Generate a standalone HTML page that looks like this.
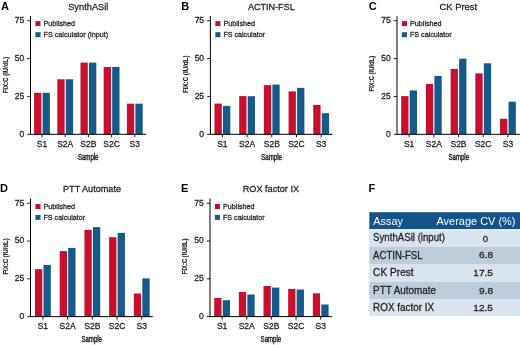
<!DOCTYPE html>
<html><head><meta charset="utf-8"><style>
html,body{margin:0;padding:0;background:#fff;}
body{width:520px;height:345px;overflow:hidden;}
svg{display:block;font-family:"Liberation Sans", sans-serif;will-change:transform;}
text.k{stroke:#231f20;stroke-width:0.28px;}
</style></head><body>
<svg width="520" height="345" viewBox="0 0 520 345">
<text x="1.0" y="10.0" font-size="11" font-weight="bold" fill="#000">A</text>
<text x="88.3" y="9.7" font-size="9.5" text-anchor="middle" textLength="40.2" lengthAdjust="spacingAndGlyphs" fill="#231f20" class="k">SynthASil</text>
<rect x="34.10" y="92.80" width="7.3" height="41.50" fill="#c8102e"/>
<rect x="42.60" y="92.80" width="7.3" height="41.50" fill="#165a8c"/>
<rect x="57.30" y="79.30" width="7.3" height="55.00" fill="#c8102e"/>
<rect x="65.80" y="79.30" width="7.3" height="55.00" fill="#165a8c"/>
<rect x="80.50" y="62.60" width="7.3" height="71.70" fill="#c8102e"/>
<rect x="89.00" y="62.60" width="7.3" height="71.70" fill="#165a8c"/>
<rect x="103.70" y="67.00" width="7.3" height="67.30" fill="#c8102e"/>
<rect x="112.20" y="67.00" width="7.3" height="67.30" fill="#165a8c"/>
<rect x="126.90" y="103.70" width="7.3" height="30.60" fill="#c8102e"/>
<rect x="135.40" y="103.70" width="7.3" height="30.60" fill="#165a8c"/>
<path d="M30.50 16.10V134.30H146.00" fill="none" stroke="#000" stroke-width="1"/>
<path d="M27.30 134.30H30.50" stroke="#000" stroke-width="0.9"/>
<text x="24.20" y="136.70" font-size="8.5" text-anchor="end" fill="#231f20" class="k">0</text>
<path d="M27.30 96.43H30.50" stroke="#000" stroke-width="0.9"/>
<text x="24.20" y="98.83" font-size="8.5" text-anchor="end" fill="#231f20" class="k">25</text>
<path d="M27.30 58.57H30.50" stroke="#000" stroke-width="0.9"/>
<text x="24.20" y="60.97" font-size="8.5" text-anchor="end" fill="#231f20" class="k">50</text>
<path d="M27.30 20.70H30.50" stroke="#000" stroke-width="0.9"/>
<text x="24.20" y="23.10" font-size="8.5" text-anchor="end" fill="#231f20" class="k">75</text>
<path d="M42.00 134.30V137.30" stroke="#000" stroke-width="0.9"/>
<text x="42.00" y="147.00" font-size="8.5" text-anchor="middle" fill="#231f20" class="k">S1</text>
<path d="M65.20 134.30V137.30" stroke="#000" stroke-width="0.9"/>
<text x="65.20" y="147.00" font-size="8.5" text-anchor="middle" fill="#231f20" class="k">S2A</text>
<path d="M88.40 134.30V137.30" stroke="#000" stroke-width="0.9"/>
<text x="88.40" y="147.00" font-size="8.5" text-anchor="middle" fill="#231f20" class="k">S2B</text>
<path d="M111.60 134.30V137.30" stroke="#000" stroke-width="0.9"/>
<text x="111.60" y="147.00" font-size="8.5" text-anchor="middle" fill="#231f20" class="k">S2C</text>
<path d="M134.80 134.30V137.30" stroke="#000" stroke-width="0.9"/>
<text x="134.80" y="147.00" font-size="8.5" text-anchor="middle" fill="#231f20" class="k">S3</text>
<text x="88.2" y="160.0" font-size="8.6" text-anchor="middle" textLength="20.6" lengthAdjust="spacingAndGlyphs" fill="#231f20" stroke="#231f20" stroke-width="0.45">Sample</text>
<text transform="translate(7.90 75.00) rotate(-90)" font-size="6.6" font-weight="bold" text-anchor="middle" textLength="36.6" lengthAdjust="spacingAndGlyphs" fill="#231f20" stroke="#231f20" stroke-width="0.15">FIX:C (IU/dL)</text>
<rect x="35.40" y="21.10" width="5.1" height="5" fill="#c8102e"/>
<rect x="35.40" y="32.20" width="5.1" height="5" fill="#165a8c"/>
<text x="43.50" y="26.00" font-size="8" textLength="31.6" lengthAdjust="spacingAndGlyphs" fill="#231f20" class="k">Published</text>
<text x="43.50" y="37.10" font-size="8" textLength="64.6" lengthAdjust="spacingAndGlyphs" fill="#231f20" class="k">FS calculator (input)</text>
<text x="181.3" y="10.0" font-size="11" font-weight="bold" fill="#000">B</text>
<text x="271.3" y="9.7" font-size="9.5" text-anchor="middle" textLength="46.8" lengthAdjust="spacingAndGlyphs" fill="#231f20" class="k">ACTIN-FSL</text>
<rect x="214.50" y="103.60" width="7.3" height="30.70" fill="#c8102e"/>
<rect x="223.00" y="105.90" width="7.3" height="28.40" fill="#165a8c"/>
<rect x="239.19" y="96.10" width="7.3" height="38.20" fill="#c8102e"/>
<rect x="247.69" y="96.20" width="7.3" height="38.10" fill="#165a8c"/>
<rect x="263.88" y="85.10" width="7.3" height="49.20" fill="#c8102e"/>
<rect x="272.38" y="84.60" width="7.3" height="49.70" fill="#165a8c"/>
<rect x="288.57" y="91.40" width="7.3" height="42.90" fill="#c8102e"/>
<rect x="297.07" y="87.90" width="7.3" height="46.40" fill="#165a8c"/>
<rect x="313.26" y="104.90" width="7.3" height="29.40" fill="#c8102e"/>
<rect x="321.76" y="113.20" width="7.3" height="21.10" fill="#165a8c"/>
<path d="M210.40 16.10V134.30H332.70" fill="none" stroke="#000" stroke-width="1"/>
<path d="M207.20 134.30H210.40" stroke="#000" stroke-width="0.9"/>
<text x="204.10" y="136.70" font-size="8.5" text-anchor="end" fill="#231f20" class="k">0</text>
<path d="M207.20 96.43H210.40" stroke="#000" stroke-width="0.9"/>
<text x="204.10" y="98.83" font-size="8.5" text-anchor="end" fill="#231f20" class="k">25</text>
<path d="M207.20 58.57H210.40" stroke="#000" stroke-width="0.9"/>
<text x="204.10" y="60.97" font-size="8.5" text-anchor="end" fill="#231f20" class="k">50</text>
<path d="M207.20 20.70H210.40" stroke="#000" stroke-width="0.9"/>
<text x="204.10" y="23.10" font-size="8.5" text-anchor="end" fill="#231f20" class="k">75</text>
<path d="M222.40 134.30V137.30" stroke="#000" stroke-width="0.9"/>
<text x="222.40" y="147.00" font-size="8.5" text-anchor="middle" fill="#231f20" class="k">S1</text>
<path d="M247.09 134.30V137.30" stroke="#000" stroke-width="0.9"/>
<text x="247.09" y="147.00" font-size="8.5" text-anchor="middle" fill="#231f20" class="k">S2A</text>
<path d="M271.78 134.30V137.30" stroke="#000" stroke-width="0.9"/>
<text x="271.78" y="147.00" font-size="8.5" text-anchor="middle" fill="#231f20" class="k">S2B</text>
<path d="M296.47 134.30V137.30" stroke="#000" stroke-width="0.9"/>
<text x="296.47" y="147.00" font-size="8.5" text-anchor="middle" fill="#231f20" class="k">S2C</text>
<path d="M321.16 134.30V137.30" stroke="#000" stroke-width="0.9"/>
<text x="321.16" y="147.00" font-size="8.5" text-anchor="middle" fill="#231f20" class="k">S3</text>
<text x="271.6" y="160.0" font-size="8.6" text-anchor="middle" textLength="20.6" lengthAdjust="spacingAndGlyphs" fill="#231f20" stroke="#231f20" stroke-width="0.45">Sample</text>
<text transform="translate(187.80 74.30) rotate(-90)" font-size="6.6" font-weight="bold" text-anchor="middle" textLength="37.5" lengthAdjust="spacingAndGlyphs" fill="#231f20" stroke="#231f20" stroke-width="0.15">FIX:C (IU/dL)</text>
<rect x="215.30" y="21.10" width="5.1" height="5" fill="#c8102e"/>
<rect x="215.30" y="32.20" width="5.1" height="5" fill="#165a8c"/>
<text x="223.40" y="26.00" font-size="8" textLength="31.6" lengthAdjust="spacingAndGlyphs" fill="#231f20" class="k">Published</text>
<text x="223.40" y="37.10" font-size="8" textLength="41.6" lengthAdjust="spacingAndGlyphs" fill="#231f20" class="k">FS calculator</text>
<text x="368.7" y="10.0" font-size="11" font-weight="bold" fill="#000">C</text>
<text x="458.3" y="9.7" font-size="9.5" text-anchor="middle" textLength="37.8" lengthAdjust="spacingAndGlyphs" fill="#231f20" class="k">CK Prest</text>
<rect x="401.20" y="96.10" width="7.3" height="38.20" fill="#c8102e"/>
<rect x="409.70" y="90.50" width="7.3" height="43.80" fill="#165a8c"/>
<rect x="425.91" y="83.90" width="7.3" height="50.40" fill="#c8102e"/>
<rect x="434.41" y="75.90" width="7.3" height="58.40" fill="#165a8c"/>
<rect x="450.62" y="68.90" width="7.3" height="65.40" fill="#c8102e"/>
<rect x="459.12" y="58.70" width="7.3" height="75.60" fill="#165a8c"/>
<rect x="475.33" y="73.40" width="7.3" height="60.90" fill="#c8102e"/>
<rect x="483.83" y="63.30" width="7.3" height="71.00" fill="#165a8c"/>
<rect x="500.04" y="118.80" width="7.3" height="15.50" fill="#c8102e"/>
<rect x="508.54" y="101.70" width="7.3" height="32.60" fill="#165a8c"/>
<path d="M397.00 16.10V134.30H520.50" fill="none" stroke="#000" stroke-width="1"/>
<path d="M393.80 134.30H397.00" stroke="#000" stroke-width="0.9"/>
<text x="390.70" y="136.70" font-size="8.5" text-anchor="end" fill="#231f20" class="k">0</text>
<path d="M393.80 96.43H397.00" stroke="#000" stroke-width="0.9"/>
<text x="390.70" y="98.83" font-size="8.5" text-anchor="end" fill="#231f20" class="k">25</text>
<path d="M393.80 58.57H397.00" stroke="#000" stroke-width="0.9"/>
<text x="390.70" y="60.97" font-size="8.5" text-anchor="end" fill="#231f20" class="k">50</text>
<path d="M393.80 20.70H397.00" stroke="#000" stroke-width="0.9"/>
<text x="390.70" y="23.10" font-size="8.5" text-anchor="end" fill="#231f20" class="k">75</text>
<path d="M409.10 134.30V137.30" stroke="#000" stroke-width="0.9"/>
<text x="409.10" y="147.00" font-size="8.5" text-anchor="middle" fill="#231f20" class="k">S1</text>
<path d="M433.81 134.30V137.30" stroke="#000" stroke-width="0.9"/>
<text x="433.81" y="147.00" font-size="8.5" text-anchor="middle" fill="#231f20" class="k">S2A</text>
<path d="M458.52 134.30V137.30" stroke="#000" stroke-width="0.9"/>
<text x="458.52" y="147.00" font-size="8.5" text-anchor="middle" fill="#231f20" class="k">S2B</text>
<path d="M483.23 134.30V137.30" stroke="#000" stroke-width="0.9"/>
<text x="483.23" y="147.00" font-size="8.5" text-anchor="middle" fill="#231f20" class="k">S2C</text>
<path d="M507.94 134.30V137.30" stroke="#000" stroke-width="0.9"/>
<text x="507.94" y="147.00" font-size="8.5" text-anchor="middle" fill="#231f20" class="k">S3</text>
<text x="458.8" y="160.0" font-size="8.6" text-anchor="middle" textLength="20.6" lengthAdjust="spacingAndGlyphs" fill="#231f20" stroke="#231f20" stroke-width="0.45">Sample</text>
<text transform="translate(374.40 73.60) rotate(-90)" font-size="6.6" font-weight="bold" text-anchor="middle" textLength="35.6" lengthAdjust="spacingAndGlyphs" fill="#231f20" stroke="#231f20" stroke-width="0.15">FIX:C (IU/dL)</text>
<rect x="401.90" y="21.10" width="5.1" height="5" fill="#c8102e"/>
<rect x="401.90" y="32.20" width="5.1" height="5" fill="#165a8c"/>
<text x="410.00" y="26.00" font-size="8" textLength="31.6" lengthAdjust="spacingAndGlyphs" fill="#231f20" class="k">Published</text>
<text x="410.00" y="37.10" font-size="8" textLength="41.6" lengthAdjust="spacingAndGlyphs" fill="#231f20" class="k">FS calculator</text>
<text x="0.1" y="192.1" font-size="11" font-weight="bold" fill="#000">D</text>
<text x="92.0" y="192.3" font-size="9.5" text-anchor="middle" textLength="58.0" lengthAdjust="spacingAndGlyphs" fill="#231f20" class="k">PTT Automate</text>
<rect x="35.00" y="269.20" width="7.3" height="47.40" fill="#c8102e"/>
<rect x="43.50" y="264.90" width="7.3" height="51.70" fill="#165a8c"/>
<rect x="59.71" y="251.10" width="7.3" height="65.50" fill="#c8102e"/>
<rect x="68.21" y="247.90" width="7.3" height="68.70" fill="#165a8c"/>
<rect x="84.42" y="229.90" width="7.3" height="86.70" fill="#c8102e"/>
<rect x="92.92" y="227.10" width="7.3" height="89.50" fill="#165a8c"/>
<rect x="109.13" y="237.20" width="7.3" height="79.40" fill="#c8102e"/>
<rect x="117.63" y="232.90" width="7.3" height="83.70" fill="#165a8c"/>
<rect x="133.84" y="293.50" width="7.3" height="23.10" fill="#c8102e"/>
<rect x="142.34" y="278.40" width="7.3" height="38.20" fill="#165a8c"/>
<path d="M30.50 198.60V316.60H152.80" fill="none" stroke="#000" stroke-width="1"/>
<path d="M27.30 316.60H30.50" stroke="#000" stroke-width="0.9"/>
<text x="24.20" y="319.00" font-size="8.5" text-anchor="end" fill="#231f20" class="k">0</text>
<path d="M27.30 278.83H30.50" stroke="#000" stroke-width="0.9"/>
<text x="24.20" y="281.23" font-size="8.5" text-anchor="end" fill="#231f20" class="k">25</text>
<path d="M27.30 241.07H30.50" stroke="#000" stroke-width="0.9"/>
<text x="24.20" y="243.47" font-size="8.5" text-anchor="end" fill="#231f20" class="k">50</text>
<path d="M27.30 203.30H30.50" stroke="#000" stroke-width="0.9"/>
<text x="24.20" y="205.70" font-size="8.5" text-anchor="end" fill="#231f20" class="k">75</text>
<path d="M42.90 316.60V319.60" stroke="#000" stroke-width="0.9"/>
<text x="42.90" y="329.40" font-size="8.5" text-anchor="middle" fill="#231f20" class="k">S1</text>
<path d="M67.61 316.60V319.60" stroke="#000" stroke-width="0.9"/>
<text x="67.61" y="329.40" font-size="8.5" text-anchor="middle" fill="#231f20" class="k">S2A</text>
<path d="M92.32 316.60V319.60" stroke="#000" stroke-width="0.9"/>
<text x="92.32" y="329.40" font-size="8.5" text-anchor="middle" fill="#231f20" class="k">S2B</text>
<path d="M117.03 316.60V319.60" stroke="#000" stroke-width="0.9"/>
<text x="117.03" y="329.40" font-size="8.5" text-anchor="middle" fill="#231f20" class="k">S2C</text>
<path d="M141.74 316.60V319.60" stroke="#000" stroke-width="0.9"/>
<text x="141.74" y="329.40" font-size="8.5" text-anchor="middle" fill="#231f20" class="k">S3</text>
<text x="91.7" y="342.1" font-size="8.6" text-anchor="middle" textLength="20.6" lengthAdjust="spacingAndGlyphs" fill="#231f20" stroke="#231f20" stroke-width="0.45">Sample</text>
<text transform="translate(7.90 256.40) rotate(-90)" font-size="6.6" font-weight="bold" text-anchor="middle" textLength="36.3" lengthAdjust="spacingAndGlyphs" fill="#231f20" stroke="#231f20" stroke-width="0.15">FIX:C (IU/dL)</text>
<rect x="35.40" y="204.00" width="5.1" height="5" fill="#c8102e"/>
<rect x="35.40" y="214.90" width="5.1" height="5" fill="#165a8c"/>
<text x="43.50" y="208.90" font-size="8" textLength="31.6" lengthAdjust="spacingAndGlyphs" fill="#231f20" class="k">Published</text>
<text x="43.50" y="219.80" font-size="8" textLength="41.6" lengthAdjust="spacingAndGlyphs" fill="#231f20" class="k">FS calculator</text>
<text x="180.9" y="192.1" font-size="11" font-weight="bold" fill="#000">E</text>
<text x="270.9" y="192.3" font-size="9.5" text-anchor="middle" textLength="56.4" lengthAdjust="spacingAndGlyphs" fill="#231f20" class="k">ROX factor IX</text>
<rect x="214.20" y="298.00" width="7.3" height="18.60" fill="#c8102e"/>
<rect x="222.70" y="300.20" width="7.3" height="16.40" fill="#165a8c"/>
<rect x="238.85" y="292.00" width="7.3" height="24.60" fill="#c8102e"/>
<rect x="247.35" y="294.50" width="7.3" height="22.10" fill="#165a8c"/>
<rect x="263.50" y="286.00" width="7.3" height="30.60" fill="#c8102e"/>
<rect x="272.00" y="287.60" width="7.3" height="29.00" fill="#165a8c"/>
<rect x="288.15" y="288.90" width="7.3" height="27.70" fill="#c8102e"/>
<rect x="296.65" y="289.50" width="7.3" height="27.10" fill="#165a8c"/>
<rect x="312.80" y="293.30" width="7.3" height="23.30" fill="#c8102e"/>
<rect x="321.30" y="304.50" width="7.3" height="12.10" fill="#165a8c"/>
<path d="M210.00 198.60V316.60H331.80" fill="none" stroke="#000" stroke-width="1"/>
<path d="M206.80 316.60H210.00" stroke="#000" stroke-width="0.9"/>
<text x="203.70" y="319.00" font-size="8.5" text-anchor="end" fill="#231f20" class="k">0</text>
<path d="M206.80 278.83H210.00" stroke="#000" stroke-width="0.9"/>
<text x="203.70" y="281.23" font-size="8.5" text-anchor="end" fill="#231f20" class="k">25</text>
<path d="M206.80 241.07H210.00" stroke="#000" stroke-width="0.9"/>
<text x="203.70" y="243.47" font-size="8.5" text-anchor="end" fill="#231f20" class="k">50</text>
<path d="M206.80 203.30H210.00" stroke="#000" stroke-width="0.9"/>
<text x="203.70" y="205.70" font-size="8.5" text-anchor="end" fill="#231f20" class="k">75</text>
<path d="M222.10 316.60V319.60" stroke="#000" stroke-width="0.9"/>
<text x="222.10" y="329.40" font-size="8.5" text-anchor="middle" fill="#231f20" class="k">S1</text>
<path d="M246.75 316.60V319.60" stroke="#000" stroke-width="0.9"/>
<text x="246.75" y="329.40" font-size="8.5" text-anchor="middle" fill="#231f20" class="k">S2A</text>
<path d="M271.40 316.60V319.60" stroke="#000" stroke-width="0.9"/>
<text x="271.40" y="329.40" font-size="8.5" text-anchor="middle" fill="#231f20" class="k">S2B</text>
<path d="M296.05 316.60V319.60" stroke="#000" stroke-width="0.9"/>
<text x="296.05" y="329.40" font-size="8.5" text-anchor="middle" fill="#231f20" class="k">S2C</text>
<path d="M320.70 316.60V319.60" stroke="#000" stroke-width="0.9"/>
<text x="320.70" y="329.40" font-size="8.5" text-anchor="middle" fill="#231f20" class="k">S3</text>
<text x="270.9" y="342.1" font-size="8.6" text-anchor="middle" textLength="20.6" lengthAdjust="spacingAndGlyphs" fill="#231f20" stroke="#231f20" stroke-width="0.45">Sample</text>
<text transform="translate(187.40 256.40) rotate(-90)" font-size="6.6" font-weight="bold" text-anchor="middle" textLength="35.6" lengthAdjust="spacingAndGlyphs" fill="#231f20" stroke="#231f20" stroke-width="0.15">FIX:C (IU/dL)</text>
<rect x="214.90" y="204.00" width="5.1" height="5" fill="#c8102e"/>
<rect x="214.90" y="214.90" width="5.1" height="5" fill="#165a8c"/>
<text x="223.00" y="208.90" font-size="8" textLength="31.6" lengthAdjust="spacingAndGlyphs" fill="#231f20" class="k">Published</text>
<text x="223.00" y="219.80" font-size="8" textLength="41.6" lengthAdjust="spacingAndGlyphs" fill="#231f20" class="k">FS calculator</text>
<text x="368.6" y="192.2" font-size="11" font-weight="bold" fill="#000">F</text>
<rect x="369.3" y="212.2" width="150.7" height="17.1" fill="#13538a"/>
<rect x="369.3" y="229.30" width="150.7" height="17.50" fill="#dae4ee"/>
<text x="373.1" y="240.8" font-size="10" textLength="71.9" lengthAdjust="spacingAndGlyphs" fill="#231f20" class="k">SynthASil (input)</text>
<text x="485.4" y="241.9" font-size="9.6" text-anchor="middle" fill="#231f20" class="k">0</text>
<rect x="369.3" y="246.80" width="150.7" height="17.70" fill="#bccdde"/>
<text x="373.1" y="258.8" font-size="10" textLength="49.5" lengthAdjust="spacingAndGlyphs" fill="#231f20" class="k">ACTIN-FSL</text>
<text x="479.00" y="258.3" font-size="9.6" textLength="14.0" lengthAdjust="spacingAndGlyphs" fill="#231f20" class="k">6.8</text>
<rect x="369.3" y="264.50" width="150.7" height="17.20" fill="#dae4ee"/>
<text x="373.1" y="275.6" font-size="10" textLength="40.6" lengthAdjust="spacingAndGlyphs" fill="#231f20" class="k">CK Prest</text>
<text x="473.30" y="276.3" font-size="9.6" textLength="19.7" lengthAdjust="spacingAndGlyphs" fill="#231f20" class="k">17.5</text>
<rect x="369.3" y="281.70" width="150.7" height="17.40" fill="#bccdde"/>
<text x="373.1" y="293.7" font-size="10" textLength="62.8" lengthAdjust="spacingAndGlyphs" fill="#231f20" class="k">PTT Automate</text>
<text x="479.00" y="293.5" font-size="9.6" textLength="14.0" lengthAdjust="spacingAndGlyphs" fill="#231f20" class="k">9.8</text>
<rect x="369.3" y="299.10" width="150.7" height="17.00" fill="#dae4ee"/>
<text x="373.1" y="311.4" font-size="10" textLength="61.0" lengthAdjust="spacingAndGlyphs" fill="#231f20" class="k">ROX factor IX</text>
<text x="473.30" y="311.2" font-size="9.6" textLength="19.7" lengthAdjust="spacingAndGlyphs" fill="#231f20" class="k">12.5</text>
<rect x="369.3" y="229.3" width="150.7" height="1.4" fill="#e9eef3"/>
<text x="373.3" y="224.6" font-size="11" textLength="29.6" lengthAdjust="spacingAndGlyphs" fill="#fff">Assay</text>
<text x="436.5" y="224.6" font-size="11" textLength="79.0" lengthAdjust="spacingAndGlyphs" fill="#fff">Average CV (%)</text>
</svg>
</body></html>
